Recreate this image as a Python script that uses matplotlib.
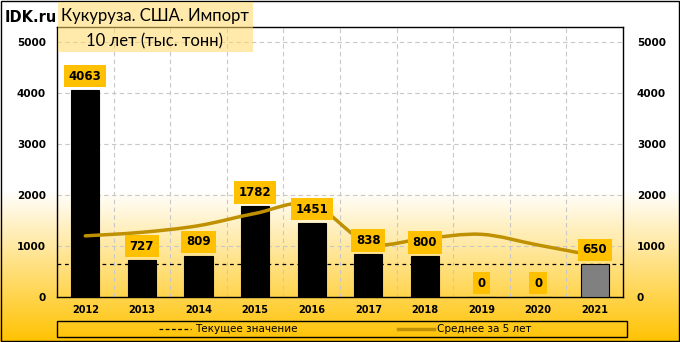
import numpy as np
import matplotlib.pyplot as plt
from matplotlib.path import Path
from matplotlib.patches import PathPatch, Rectangle
from matplotlib.lines import Line2D

# data
years = ['2012', '2013', '2014', '2015', '2016', '2017', '2018', '2019', '2020', '2021']
imports = [4063, 727, 809, 1782, 1451, 838, 800, 0, 0, 650]
avg5 = [1200, 1270, 1400, 1640, 1820, 1060, 1150, 1230, 1020, 810]
y_ticks = [0, 1000, 2000, 3000, 4000, 5000]

gold = '#FFC000'
line_col = '#BF9000'

fig = plt.figure(figsize=(6.8, 3.42), dpi=100)

# background gradient (white on top, gold at bottom)
bg = fig.add_axes([0, 0, 1, 1], zorder=-10)
n = 342
t = np.clip((np.arange(n) - 190) / (n - 190), 0, 1)  # row 0 = top
c_top = np.array([1.0, 1.0, 1.0])
c_bot = np.array([1.0, 0.76, 0.0])
img = c_top[None, :] * (1 - t[:, None]) + c_bot[None, :] * t[:, None]
bg.imshow(img[:, None, :], aspect='auto', extent=[0, 1, 0, 1])
bg.set_axis_off()
bg.add_patch(Rectangle((0.001, 0.002), 0.998, 0.995, fill=False, edgecolor='black',
                       linewidth=1, transform=bg.transAxes))

ax = fig.add_axes([57 / 680, 45 / 342, 566 / 680, 270 / 342])
ax.set_facecolor('none')
x = np.arange(len(years))
colors = ['black'] * (len(years) - 1) + ['#808080']
ax.bar(x, imports, width=0.5, color=colors, edgecolor='black', linewidth=0.8, zorder=3)

# current value line
ax.axhline(imports[-1], color='black', linestyle=(0, (3, 3)), linewidth=0.9, zorder=2)

# smoothed 5-year average
pts = np.column_stack([x, avg5]).astype(float)
verts = [pts[0]]
codes = [Path.MOVETO]
for i in range(len(pts) - 1):
    p0 = pts[max(i - 1, 0)]
    p1 = pts[i]
    p2 = pts[i + 1]
    p3 = pts[min(i + 2, len(pts) - 1)]
    verts += [p1 + (p2 - p0) / 6, p2 - (p3 - p1) / 6, p2]
    codes += [Path.CURVE4] * 3
ax.add_patch(PathPatch(Path(verts, codes), fill=False, edgecolor=line_col,
                       linewidth=2.5, capstyle='round', joinstyle='round', zorder=4))

# data labels
for xi, v in zip(x, imports):
    ax.annotate(str(v), (xi, v), xytext=(0, 10), textcoords='offset points',
                ha='center', va='center', fontsize=8.5, fontweight='bold', zorder=6,
                bbox=dict(boxstyle='square,pad=0.4', facecolor=gold, edgecolor='none'))

ax.set_xlim(-0.5, len(years) - 0.5)
ax.set_ylim(0, 5300)
ax.set_xticks(x)
ax.set_xticklabels(years, fontsize=7, fontweight='bold')
ax.set_yticks(y_ticks)
ax.set_yticklabels([str(v) for v in y_ticks], fontsize=7.5, fontweight='bold')
ax.tick_params(length=0, pad=8)
ax.tick_params(axis='x', pad=6)
ax.set_xticks(np.arange(len(years) + 1) - 0.5, minor=True)
ax.tick_params(which='minor', length=0)
ax.grid(True, which='minor', axis='x', color='#c8c8c8', linestyle=(0, (4, 3)), linewidth=0.8)
ax.grid(True, which='major', axis='y', color='#c8c8c8', linestyle=(0, (4, 3)), linewidth=0.8)
for s in ax.spines.values():
    s.set_color('black')
    s.set_linewidth(1)

ax2 = ax.twinx()
ax2.set_ylim(ax.get_ylim())
ax2.set_yticks(y_ticks)
ax2.set_yticklabels([str(v) for v in y_ticks], fontsize=7.5, fontweight='bold')
ax2.tick_params(length=0, pad=10)
for s in ax2.spines.values():
    s.set_visible(False)

# titles
fig.text(5 / 680, 1 - 17 / 342, 'IDK.ru', fontsize=10.5, fontweight='bold', va='center', ha='left')
fig.patches.append(Rectangle((58 / 680, 1 - 52 / 342), 195 / 680, 50 / 342, transform=fig.transFigure,
                             facecolor='#FFD966', alpha=0.55, edgecolor='none', zorder=1))
fig.text(155 / 680, 1 - 16 / 342, 'Кукуруза. США. Импорт', fontsize=12, family='Lato',
         ha='center', va='center')
fig.text(155 / 680, 1 - 41 / 342, '10 лет (тыс. тонн)', fontsize=12, family='Lato',
         ha='center', va='center')

# legend
fig.patches.append(Rectangle((57 / 680, 1 - 337 / 342), 570 / 680, 16 / 342, transform=fig.transFigure,
                             facecolor='none', edgecolor='black', linewidth=1))
ly = 1 - 329 / 342
fig.lines.append(Line2D([159 / 680, 191 / 680], [ly, ly], transform=fig.transFigure,
                        color='black', linestyle=(0, (3, 2)), linewidth=0.9))
fig.text(195 / 680, ly, 'Текущее значение', fontsize=7.5, va='center', ha='left')
fig.lines.append(Line2D([398 / 680, 434 / 680], [ly, ly], transform=fig.transFigure,
                        color=line_col, linewidth=2.5))
fig.text(437 / 680, ly, 'Среднее за 5 лет', fontsize=7.5, va='center', ha='left')

fig.savefig('out.png', dpi=100)
